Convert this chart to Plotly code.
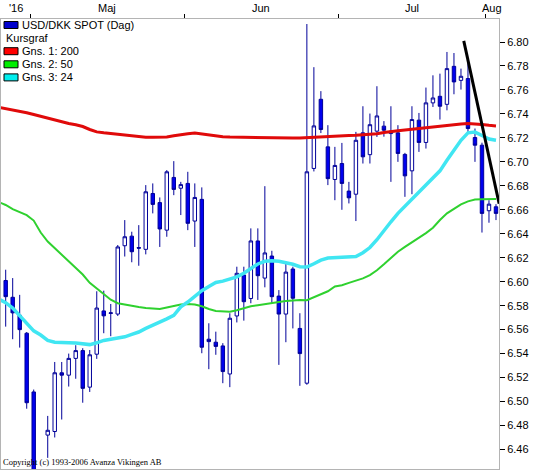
import plotly.graph_objects as go
import pandas as pd

# USD/DKK spot, daily candles 25 Apr - 2 Aug 2016
DATES = pd.bdate_range("2016-04-25", "2016-08-02")

OPEN = [6.625, 6.601, 6.587, 6.572, 6.557, 6.508, 6.437, 6.472, 6.475, 6.524,
        6.522, 6.536, 6.5425, 6.512, 6.5395, 6.5756, 6.5735, 6.573, 6.630, 6.638,
        6.6285, 6.627, 6.6736, 6.666, 6.643, 6.687, 6.678, 6.682, 6.6506, 6.6687,
        6.552, 6.5495, 6.5464, 6.523, 6.5714, 6.6056, 6.586, 6.634, 6.603, 6.6214,
        6.588, 6.573, 6.6106, 6.561, 6.5153, 6.6945, 6.7522, 6.7125, 6.6853, 6.6986,
        6.6756, 6.673, 6.7242, 6.706, 6.7256, 6.7298, 6.7236, 6.7242, 6.7062, 6.6925,
        6.7348, 6.7162, 6.7492, 6.7547, 6.748, 6.7797, 6.768, 6.7695, 6.7203, 6.7139,
        6.6592, 6.6625]
HIGH = [6.630, 6.610, 6.603, 6.589, 6.558, 6.510, 6.441, 6.488, 6.533, 6.533,
        6.540, 6.547, 6.5445, 6.543, 6.592, 6.5925, 6.5814, 6.6306, 6.6514, 6.6417,
        6.6472, 6.6806, 6.682, 6.6703, 6.6931, 6.7006, 6.6833, 6.6917, 6.682, 6.6787,
        6.5653, 6.5583, 6.5487, 6.5737, 6.6125, 6.6125, 6.6445, 6.6445, 6.6797, 6.6258,
        6.593, 6.6167, 6.6125, 6.5737, 6.815, 6.779, 6.759, 6.7306, 6.7125, 6.7158,
        6.6833, 6.725, 6.7464, 6.7403, 6.7631, 6.734, 6.7464, 6.7306, 6.7075, 6.7464,
        6.7408, 6.762, 6.7722, 6.7736, 6.7917, 6.7908, 6.7778, 6.7847, 6.7278, 6.716,
        6.668, 6.6647]
LOW = [6.615, 6.5625, 6.552, 6.545, 6.494, 6.433, 6.420, 6.453, 6.470, 6.485,
       6.5125, 6.519, 6.499, 6.508, 6.5356, 6.557, 6.5545, 6.5714, 6.621, 6.6162,
       6.6133, 6.6228, 6.657, 6.629, 6.6375, 6.6722, 6.6556, 6.643, 6.629, 6.5403,
       6.527, 6.539, 6.5153, 6.512, 6.566, 6.5675, 6.582, 6.5848, 6.5953, 6.582,
       6.5306, 6.5495, 6.561, 6.5131, 6.514, 6.692, 6.724, 6.6806, 6.668, 6.660,
       6.6653, 6.6506, 6.6986, 6.6986, 6.7208, 6.721, 6.6833, 6.700, 6.6708, 6.673,
       6.7083, 6.7111, 6.7458, 6.7353, 6.743, 6.7564, 6.7603, 6.7236, 6.700, 6.641,
       6.6492, 6.6514]
CLOSE = [6.6205, 6.5875, 6.574, 6.560, 6.499, 6.438, 6.430, 6.476, 6.524, 6.522,
         6.536, 6.5425, 6.511, 6.539, 6.578, 6.5715, 6.574, 6.629, 6.6375, 6.625,
         6.628, 6.675, 6.6645, 6.644, 6.6917, 6.677, 6.681, 6.6487, 6.6703, 6.5453,
         6.550, 6.546, 6.525, 6.5695, 6.607, 6.5833, 6.634, 6.605, 6.624, 6.5875,
         6.573, 6.608, 6.5862, 6.540, 6.6917, 6.730, 6.727, 6.686, 6.697, 6.682,
         6.670, 6.718, 6.7042, 6.731, 6.7383, 6.7264, 6.7256, 6.707, 6.6883, 6.7353,
         6.7162, 6.7492, 6.7533, 6.7464, 6.7778, 6.7667, 6.7714, 6.7278, 6.7139, 6.657,
         6.6647, 6.657]

# moving averages (Gns. 1: 200, Gns. 2: 50, Gns. 3: 24)
MA200 = [6.7455, 6.7445, 6.743, 6.742, 6.741, 6.7395, 6.738, 6.736, 6.7345, 6.733,
         6.732, 6.731, 6.7295, 6.727, 6.725, 6.7242, 6.7235, 6.723, 6.7222, 6.7215,
         6.721, 6.7206, 6.7205, 6.7206, 6.7208, 6.7218, 6.7228, 6.7235, 6.724, 6.7232,
         6.7222, 6.7215, 6.721, 6.7207, 6.7206, 6.7202, 6.7198, 6.7198, 6.7198, 6.7198,
         6.7198, 6.7198, 6.7198, 6.7198, 6.7202, 6.7205, 6.721, 6.7212, 6.7215, 6.7218,
         6.722, 6.7222, 6.7225, 6.723, 6.7235, 6.7245, 6.7255, 6.726, 6.7265, 6.7272,
         6.7278, 6.7285, 6.729, 6.7298, 6.7305, 6.731, 6.7315, 6.732, 6.7318, 6.7312,
         6.7305, 6.730]
MA50 = [6.6665, 6.664, 6.6605, 6.658, 6.6555, 6.651, 6.641, 6.6335, 6.628, 6.6225,
        6.6175, 6.612, 6.606, 6.599, 6.5945, 6.5895, 6.585, 6.582, 6.5808, 6.5798,
        6.5788, 6.578, 6.5775, 6.5772, 6.5785, 6.5798, 6.581, 6.5814, 6.581, 6.5795,
        6.5772, 6.5756, 6.5752, 6.575, 6.5762, 6.578, 6.5795, 6.5803, 6.581, 6.5817,
        6.583, 6.5838, 6.5845, 6.5848, 6.5845, 6.587, 6.589, 6.592, 6.596, 6.597,
        6.599, 6.601, 6.6028, 6.6055, 6.6095, 6.6145, 6.6198, 6.625, 6.629, 6.6326,
        6.6367, 6.6405, 6.645, 6.6515, 6.657, 6.661, 6.6645, 6.667, 6.6685, 6.6688,
        6.669, 6.669]
MA24 = [6.5855, 6.5825, 6.578, 6.5715, 6.5645, 6.559, 6.5555, 6.551, 6.5495, 6.549,
        6.549, 6.5488, 6.548, 6.5475, 6.549, 6.551, 6.552, 6.5528, 6.554, 6.556,
        6.558, 6.561, 6.5635, 6.5658, 6.569, 6.572, 6.579, 6.583, 6.588, 6.5925,
        6.596, 6.5993, 6.6005, 6.602, 6.604, 6.607, 6.611, 6.6148, 6.617, 6.6175,
        6.617, 6.616, 6.6145, 6.6125, 6.6122, 6.615, 6.618, 6.6198, 6.6202, 6.6203,
        6.6203, 6.621, 6.6242, 6.6285, 6.635, 6.643, 6.650, 6.657, 6.663, 6.668,
        6.674, 6.680, 6.6865, 6.6925, 6.7014, 6.7095, 6.718, 6.7242, 6.7248, 6.722,
        6.719, 6.718]

# hand-drawn trend line (position in trading days, price)
TREND_POS = [66.4, 71.45]
TREND_VAL = [6.801, 6.665]

MONTH_NAMES = {4: "'16", 5: "Maj", 6: "Jun", 7: "Jul", 8: "Aug"}
Y_TICKS = [6.46, 6.48, 6.50, 6.52, 6.54, 6.56, 6.58, 6.60, 6.62, 6.64,
           6.66, 6.68, 6.70, 6.72, 6.74, 6.76, 6.78, 6.80]

X_RANGE = [0.33, 71.43]
Y_RANGE = [6.4437, 6.8192]

W, H = 535, 470
M = dict(l=1, r=36, t=19, b=1)
FONT = "Liberation Sans, Arial, sans-serif"


def px_to_paper(x, y):
    """pixel position in the window -> paper coords"""
    pw = W - M['l'] - M['r']
    ph = H - M['t'] - M['b']
    return (x - M['l']) / pw, 1 - (y - M['t']) / ph


pos = list(range(len(DATES)))
fig = go.Figure()

fig.add_trace(go.Candlestick(
    x=pos, open=OPEN, high=HIGH, low=LOW, close=CLOSE,
    increasing=dict(line=dict(color='#000099', width=1), fillcolor='white'),
    decreasing=dict(line=dict(color='#000099', width=1), fillcolor='#0000ee'),
    whiskerwidth=0, showlegend=False, hoverinfo='skip'))

for vals, col, wid in [(MA200, '#e00a0a', 3), (MA50, '#2fd12f', 2), (MA24, '#40e6f2', 3.5)]:
    fig.add_trace(go.Scatter(x=pos, y=vals, mode='lines',
                             line=dict(color=col, width=wid),
                             showlegend=False, hoverinfo='skip'))

fig.add_trace(go.Scatter(x=TREND_POS, y=TREND_VAL, mode='lines',
                         line=dict(color='black', width=3),
                         showlegend=False, hoverinfo='skip'))

# month boundaries and month labels (top axis)
months = [d.month for d in DATES]
bounds = [i - 0.5 for i in range(1, len(months)) if months[i] != months[i - 1]]
edges = [X_RANGE[0]] + bounds + [X_RANGE[1]]
seg_months = [months[0]] + [months[int(b + 0.5)] for b in bounds]

annotations = []
for k, m in enumerate(seg_months):
    annotations.append(dict(
        x=(edges[k] + edges[k + 1]) / 2, y=1, xref='x', yref='paper',
        text=MONTH_NAMES[m], showarrow=False, yanchor='middle', yshift=11,
        font=dict(family=FONT, size=11, color='black')))

annotations.append(dict(
    x=0, y=0, xref='paper', yref='paper', xanchor='left', yanchor='bottom',
    text='Copyright (c) 1993-2006 Avanza Vikingen AB', showarrow=False,
    font=dict(family='Liberation Serif, Times New Roman, serif', size=8.5, color='black')))

# legend box (top-left)
LEGEND = [("USD/DKK SPOT (Dag)", '#0000cc'), ("Kursgraf", None),
          ("Gns. 1: 200", '#ff0000'), ("Gns. 2: 50", '#00ee00'), ("Gns. 3: 24", '#00eeee')]
shapes = []
for k, (label, col) in enumerate(LEGEND):
    yc = 25 + k * 13.1
    if col:
        x0, y0 = px_to_paper(4, yc - 3.5)
        x1, y1 = px_to_paper(18, yc + 3.5)
        shapes.append(dict(type='rect', xref='paper', yref='paper',
                           x0=x0, x1=x1, y0=y0, y1=y1,
                           fillcolor=col, line=dict(color='black', width=1)))
        tx = 20
    else:
        tx = 4
    ax, ay = px_to_paper(tx, yc)
    annotations.append(dict(x=ax, y=ay, xref='paper', yref='paper',
                            xanchor='left', yanchor='middle', text=label,
                            showarrow=False,
                            font=dict(family=FONT, size=11, color='black')))

fig.update_layout(
    width=W, height=H, margin=M,
    paper_bgcolor='white', plot_bgcolor='white',
    showlegend=False, annotations=annotations, shapes=shapes,
    xaxis=dict(range=X_RANGE, side='top', tickvals=bounds, showticklabels=False,
               ticks='outside', ticklen=4, tickcolor='black',
               showline=True, linecolor='#b4b4b4', mirror=True,
               showgrid=False, zeroline=False, rangeslider=dict(visible=False),
               fixedrange=True),
    yaxis=dict(range=Y_RANGE, side='right', tickvals=Y_TICKS, tickformat='.2f',
               ticks='outside', ticklen=5, tickcolor='black',
               tickfont=dict(family=FONT, size=11, color='black'),
               showline=True, linecolor='#b4b4b4', mirror=True,
               showgrid=False, zeroline=False, fixedrange=True),
)

# drop the page's default body margin so the 535x470 figure fills the window
fig.write_html("out.html", config={'displayModeBar': False},
               post_script="document.body.style.margin='0';")
